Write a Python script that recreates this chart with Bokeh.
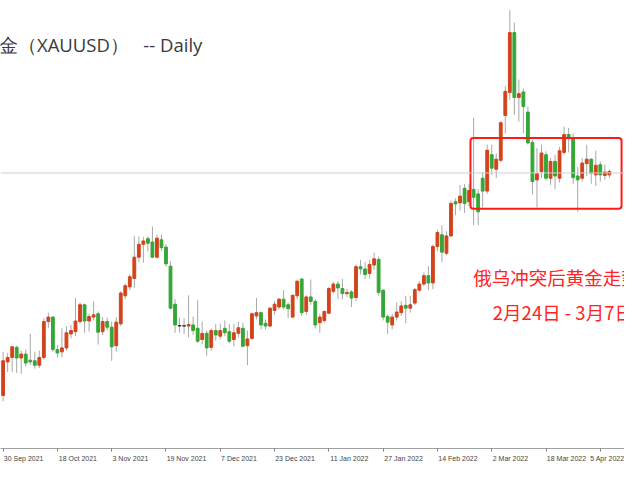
from bokeh.plotting import figure
from bokeh.models import Range1d, LinearAxis, FixedTicker, Span, ColumnDataSource
from bokeh.core.properties import value
from bokeh.embed import file_html
from bokeh.resources import INLINE

# ---- data (XAUUSD daily) ----
dates = ["2021-09-30", "2021-10-01", "2021-10-04", "2021-10-05", "2021-10-06", "2021-10-07", "2021-10-08",
         "2021-10-11", "2021-10-12", "2021-10-13", "2021-10-14", "2021-10-15", "2021-10-18", "2021-10-19",
         "2021-10-20", "2021-10-21", "2021-10-22", "2021-10-25", "2021-10-26", "2021-10-27", "2021-10-28",
         "2021-10-29", "2021-11-01", "2021-11-02", "2021-11-03", "2021-11-04", "2021-11-05", "2021-11-08",
         "2021-11-09", "2021-11-10", "2021-11-11", "2021-11-12", "2021-11-15", "2021-11-16", "2021-11-17",
         "2021-11-18", "2021-11-19", "2021-11-22", "2021-11-23", "2021-11-24", "2021-11-25", "2021-11-26",
         "2021-11-29", "2021-11-30", "2021-12-01", "2021-12-02", "2021-12-03", "2021-12-06", "2021-12-07",
         "2021-12-08", "2021-12-09", "2021-12-10", "2021-12-13", "2021-12-14", "2021-12-15", "2021-12-16",
         "2021-12-17", "2021-12-20", "2021-12-21", "2021-12-22", "2021-12-23", "2021-12-27", "2021-12-28",
         "2021-12-29", "2021-12-30", "2021-12-31", "2022-01-03", "2022-01-04", "2022-01-05", "2022-01-06",
         "2022-01-07", "2022-01-10", "2022-01-11", "2022-01-12", "2022-01-13", "2022-01-14", "2022-01-17",
         "2022-01-18", "2022-01-19", "2022-01-20", "2022-01-21", "2022-01-24", "2022-01-25", "2022-01-26",
         "2022-01-27", "2022-01-28", "2022-01-31", "2022-02-01", "2022-02-02", "2022-02-03", "2022-02-04",
         "2022-02-07", "2022-02-08", "2022-02-09", "2022-02-10", "2022-02-11", "2022-02-14", "2022-02-15",
         "2022-02-16", "2022-02-17", "2022-02-18", "2022-02-21", "2022-02-22", "2022-02-23", "2022-02-24",
         "2022-02-25", "2022-02-28", "2022-03-01", "2022-03-02", "2022-03-03", "2022-03-04", "2022-03-07",
         "2022-03-08", "2022-03-09", "2022-03-10", "2022-03-11", "2022-03-14", "2022-03-15", "2022-03-16",
         "2022-03-17", "2022-03-18", "2022-03-21", "2022-03-22", "2022-03-23", "2022-03-24", "2022-03-25",
         "2022-03-28", "2022-03-29", "2022-03-30", "2022-03-31", "2022-04-01", "2022-04-04", "2022-04-05",
         "2022-04-06", "2022-04-07"]

opens = [1726, 1756, 1760, 1769, 1759.5, 1763, 1757.5, 1757, 1753, 1760, 1792, 1796, 1767, 1765,
         1768.5, 1781, 1783, 1792, 1807, 1792.5, 1796, 1799, 1783, 1792, 1787, 1770.5, 1790, 1815,
         1823, 1830.5, 1849.5, 1861, 1866, 1863, 1849.5, 1865, 1858.5, 1841.5, 1807.5, 1788.5, 1788, 1788,
         1789, 1786, 1776, 1781.5, 1769, 1784, 1779, 1786, 1783, 1776, 1781.5, 1786, 1770.5, 1777,
         1797, 1800, 1790.5, 1788, 1802, 1805, 1812, 1807, 1796, 1815, 1830, 1801, 1814, 1810,
         1791, 1793, 1799.5, 1819, 1825.5, 1821.5, 1817, 1818.5, 1813.5, 1841, 1839, 1835, 1842.5, 1847.5,
         1820, 1796.5, 1789, 1796, 1800, 1806.5, 1804, 1808.5, 1820, 1825.5, 1833, 1826.5, 1859, 1869.5,
         1853, 1868.5, 1899, 1898, 1911, 1899, 1910, 1906, 1920, 1908.5, 1941, 1928, 1936, 1976,
         1996.5, 2050, 1992, 1997, 1979, 1952, 1918.5, 1926, 1941, 1920, 1935, 1920, 1943, 1959,
         1955, 1922, 1920, 1933, 1937, 1923, 1932, 1922.5, 1923]

highs = [1765, 1764, 1770, 1770.5, 1766, 1767, 1781, 1765, 1766, 1795, 1800, 1797, 1771, 1786,
         1788, 1789, 1813, 1809, 1808, 1799, 1810, 1801, 1796, 1795.5, 1792, 1796, 1819, 1826,
         1834, 1868.5, 1868, 1867.5, 1868, 1877, 1869.5, 1869.5, 1861, 1846, 1812, 1795.5, 1795, 1815.5,
         1796.5, 1811, 1792, 1784, 1786, 1790, 1790, 1793, 1790, 1790, 1792, 1791, 1784, 1800,
         1813, 1801, 1794, 1805, 1810.5, 1813, 1820, 1809, 1816, 1829.5, 1831, 1815.5, 1829.5, 1812,
         1799, 1802, 1823, 1827.5, 1828, 1830, 1821, 1820, 1843, 1847, 1845, 1847, 1853.5, 1850,
         1821, 1798.5, 1799, 1809, 1810, 1815, 1815, 1822, 1828, 1836, 1841.5, 1861, 1874, 1878,
         1872.5, 1900, 1902, 1914, 1915, 1915, 1974, 1910, 1925.5, 1950, 1950, 1942, 1971, 2002,
         2070, 2059, 2008, 2000, 1984, 1954, 1947, 1950, 1944, 1938, 1941, 1948, 1966, 1965,
         1960, 1930, 1938, 1950, 1938, 1944.5, 1935, 1932, 1928]

lows = [1721, 1747, 1747, 1746, 1745.5, 1752, 1753, 1750, 1750.5, 1758, 1786, 1765, 1760, 1760,
        1766, 1777, 1779, 1790, 1782, 1783, 1793, 1771.5, 1780, 1784, 1757, 1765, 1788, 1812,
        1820, 1822, 1845, 1844.5, 1854.5, 1848.5, 1848, 1855, 1841, 1803, 1782, 1782, 1781, 1778,
        1780, 1773, 1772, 1761.5, 1766, 1775, 1776, 1779, 1772.5, 1770, 1778, 1769, 1753, 1776,
        1794, 1785, 1785, 1787, 1798, 1803, 1803, 1795, 1795, 1812, 1797, 1798, 1807, 1786,
        1782, 1791, 1799, 1817, 1812, 1812, 1814, 1805, 1810, 1834, 1830, 1830.5, 1838, 1815,
        1793, 1781, 1785, 1793, 1797, 1790.5, 1800, 1807, 1819, 1824, 1820, 1821, 1855, 1845,
        1851, 1867.5, 1887, 1891, 1889, 1895, 1878, 1878, 1894, 1906, 1923, 1920, 1934, 1960,
        1990, 1976.5, 1970.5, 1960, 1950, 1905.5, 1894, 1920, 1918, 1914, 1910, 1916, 1941, 1943,
        1915, 1890, 1917, 1922, 1915, 1913, 1917, 1918.5, 1920]

closes = [1757, 1760, 1769.5, 1759.5, 1763, 1755, 1756, 1753, 1760, 1792, 1796, 1767, 1764, 1768.5,
          1782, 1784, 1792.5, 1807, 1792.5, 1796.5, 1798, 1782.5, 1792, 1787, 1769.5, 1791.5, 1817.5, 1824,
          1832, 1849.5, 1861, 1864, 1862, 1849.5, 1866.5, 1858, 1843.5, 1804, 1789, 1788, 1788.3, 1789.5,
          1784, 1774.5, 1781.5, 1768.5, 1784, 1780, 1784, 1782, 1774.5, 1782, 1786.5, 1770, 1776.5, 1799,
          1800, 1789, 1788, 1804, 1807.5, 1812, 1805, 1803.5, 1815.5, 1828, 1800, 1814, 1810, 1789,
          1796, 1801, 1821.5, 1825.5, 1822, 1817, 1818, 1813, 1841, 1839, 1834, 1843, 1848, 1818,
          1796, 1791.5, 1796, 1800.5, 1806, 1804, 1807, 1820.5, 1825.5, 1833, 1826.5, 1859, 1871.5, 1854,
          1868.5, 1897.5, 1897, 1904, 1897.5, 1909, 1903, 1890, 1908.5, 1945, 1929, 1937, 1969.5, 1997.5,
          2050, 1992, 1995.5, 1984, 1951.5, 1917, 1924, 1942.5, 1920, 1935, 1922, 1944.5, 1959, 1956,
          1920.5, 1918.5, 1933.5, 1937, 1924.5, 1931.5, 1923, 1925.5, 1926]

tick_bars = [0, 12, 24, 36, 48, 60, 72, 84, 96, 108, 120, 132]
tick_labels = ["30 Sep 2021", "18 Oct 2021", "3 Nov 2021", "19 Nov 2021", "7 Dec 2021", "23 Dec 2021",
               "11 Jan 2022", "27 Jan 2022", "14 Feb 2022", "2 Mar 2022", "18 Mar 2022", "5 Apr 2022"]

bid_price = 1924.7
title_text = "金（XAUUSD）\u00a0\u00a0\u00a0-- Daily"
note_line1 = "俄乌冲突后黄金走势"
note_line2 = "2月24日 - 3月7日"
box_start_bar, box_end_bar = 103.3, 136.7
box_top_price, box_bottom_price = 1955.8, 1892.7

# ---- styling ----
UP = "#d2431c"
DOWN = "#36a636"
DOJI = "#333333"
WICK = "#a8a8a8"

xs = list(range(len(opens)))
colors = []
for o, c in zip(opens, closes):
    if abs(c - o) < 0.6:
        colors.append(DOJI)
    elif c > o:
        colors.append(UP)
    else:
        colors.append(DOWN)

src = ColumnDataSource(dict(
    x=xs, date=dates, open=opens, high=highs, low=lows, close=closes,
    top=[max(o, c) for o, c in zip(opens, closes)],
    bottom=[min(o, c) for o, c in zip(opens, closes)],
    color=colors,
))

p = figure(width=624, height=464, output_backend="svg", toolbar_location=None,
           x_range=Range1d(-0.58, 137.35), y_range=Range1d(1678.7, 2078.65),
           x_axis_type=None, y_axis_type=None, min_border=0,
           min_border_left=0, min_border_right=0, min_border_top=0, min_border_bottom=0)
p.outline_line_color = None
p.background_fill_color = "white"
p.border_fill_color = "white"

# bid line
p.add_layout(Span(location=bid_price, dimension="width", line_color="#d0d0d0", line_width=1))

# candles
p.segment(x0="x", x1="x", y0="low", y1="high", source=src, line_color=WICK, line_width=1)
p.vbar(x="x", width=0.62, top="top", bottom="bottom", source=src,
       fill_color="color", line_color="color", line_width=1)

# highlight box
p.quad(left=[box_start_bar], right=[box_end_bar], top=[box_top_price], bottom=[box_bottom_price],
       fill_color=None, line_color="#ff1a1a", line_width=2, border_radius=3)

# title
p.text(x=[44.03], y=[2039.7], text=[title_text], text_align="right", text_baseline="middle",
       text_font=value("Open Sans"), text_font_size="18.5px", text_color="#3a3a3a")

# notes (run past the right edge, as in the reference)
p.text(x=[103.94], y=[1832.1], text=[note_line1], text_align="left", text_baseline="middle",
       text_font=value("Noto Sans CJK SC"), text_font_size="18.5px", text_color="#ff2424")
p.text(x=[108.25], y=[1800.4], text=[note_line2], text_align="left", text_baseline="middle",
       text_font=value("Noto Sans CJK SC"), text_font_size="18.5px", text_color="#ff2424")

# x axis: small tick marks at the labelled bars, labels left-aligned after them
centers = []
overrides = {}
for b, lab in zip(tick_bars, tick_labels):
    c = round(b + (len(lab) * 3.64 / 2 + 1) / 4.64, 2)
    centers.append(c)
    overrides[c] = lab

ax = LinearAxis(ticker=FixedTicker(ticks=centers, minor_ticks=tick_bars),
                major_label_overrides=overrides,
                major_tick_out=0, major_tick_in=0,
                minor_tick_out=3, minor_tick_in=0, minor_tick_line_color="#808080",
                axis_line_color="#a0a0a0", axis_line_width=1,
                major_label_text_font="Liberation Sans", major_label_text_font_size="7px",
                major_label_text_color="#444444", major_label_standoff=3)
p.add_layout(ax, "below")

open("out.html", "w").write(file_html(p, INLINE))
